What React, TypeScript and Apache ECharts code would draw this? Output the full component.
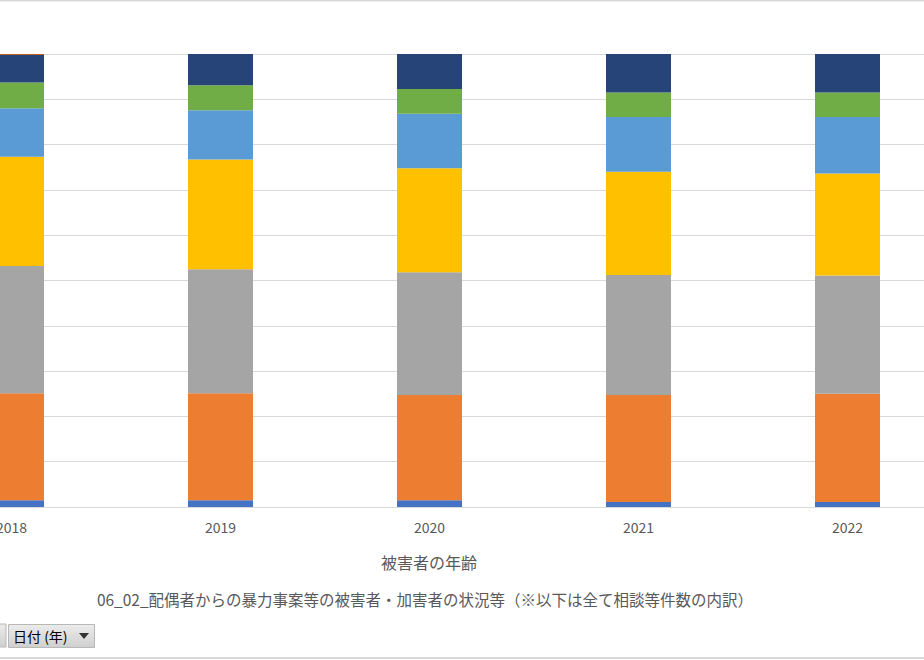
import React, { useEffect, useRef } from "react";
import * as echarts from "echarts";

const years = ["2018", "2019", "2020", "2021", "2022"];
const seriesNames = ["10歳代以下", "20歳代", "30歳代", "40歳代", "50歳代", "60歳代", "70歳以上", "不明"];
const s10 = [1.5, 1.5, 1.5, 1.1, 1.1];
const s20 = [23.6, 23.6, 23.2, 23.6, 23.9];
const s30 = [28.1, 27.4, 27.1, 26.5, 26.1];
const s40 = [24.1, 24.2, 23.0, 22.8, 22.5];
const s50 = [10.7, 10.9, 12.0, 12.1, 12.5];
const s60 = [5.7, 5.5, 5.5, 5.4, 5.4];
const s70 = [6.1, 6.9, 7.7, 8.5, 8.5];
const sUnknown = [0.2, 0, 0, 0, 0];
const seriesValues = [s10, s20, s30, s40, s50, s60, s70, sUnknown];
const colors = ["#4472C4", "#ED7D31", "#A5A5A5", "#FFC000", "#5B9BD5", "#70AD47", "#264478", "#C0601E"];
const yTicks = [0, 10, 20, 30, 40, 50, 60, 70, 80, 90, 100];

const axisTitle = "被害者の年齢";
const chartTitle = "06_02_配偶者からの暴力事案等の被害者・加害者の状況等（※以下は全て相談等件数の内訳）";
const fieldButton = "日付 (年)";

export default function App() {
  const ref = useRef<HTMLDivElement>(null);
  useEffect(() => {
    if (!ref.current) return;
    const chart = echarts.init(ref.current, null, { renderer: "svg" });
    const font = "'Noto Sans CJK JP', 'Noto Sans', sans-serif";
    chart.setOption({
      animation: false,
      backgroundColor: "#ffffff",
      grid: {
        left: -93,
        right: -28,
        top: 54,
        bottom: 153,
        containLabel: false,
        outerBoundsMode: "none",
      },
      xAxis: {
        type: "category",
        data: years,
        axisLine: { show: true, lineStyle: { color: "#d9d9d9", width: 1 } },
        axisTick: { show: false },
        axisLabel: { color: "#595959", fontSize: 14, margin: 13, fontFamily: font },
      },
      yAxis: {
        type: "value",
        min: yTicks[0],
        max: yTicks[yTicks.length - 1],
        interval: 10,
        axisLabel: { show: false },
        axisLine: { show: false },
        axisTick: { show: false },
        splitLine: { show: true, lineStyle: { color: "#d9d9d9", width: 1 } },
      },
      series: seriesValues.map((vals, i) => ({
        name: seriesNames[i],
        type: "bar",
        stack: "total",
        barWidth: 65,
        data: vals,
        itemStyle: { color: colors[i] },
      })),
      graphic: [
        { type: "line", shape: { x1: 0, y1: 0.5, x2: 924, y2: 0.5 }, style: { stroke: "#d9d9d9", lineWidth: 2 } },
        { type: "line", shape: { x1: 0, y1: 658, x2: 924, y2: 658 }, style: { stroke: "#d9d9d9", lineWidth: 2 } },
        {
          type: "text",
          x: 429,
          y: 562,
          style: { text: axisTitle, fill: "#595959", font: `16px ${font}`, textAlign: "center", textVerticalAlign: "middle" },
        },
        {
          type: "text",
          x: 425,
          y: 599,
          style: { text: chartTitle, fill: "#595959", font: `15.5px ${font}`, textAlign: "center", textVerticalAlign: "middle" },
        },
        {
          type: "rect",
          shape: { x: -2, y: 624, width: 8, height: 23 },
          style: {
            fill: new echarts.graphic.LinearGradient(0, 0, 0, 1, [
              { offset: 0, color: "#ececec" },
              { offset: 1, color: "#cfcfcf" },
            ]),
            stroke: "#b8b8b8",
            lineWidth: 1,
          },
        },
        {
          type: "rect",
          shape: { x: 8.5, y: 624.5, width: 86, height: 23 },
          style: {
            fill: new echarts.graphic.LinearGradient(0, 0, 0, 1, [
              { offset: 0, color: "#ececec" },
              { offset: 1, color: "#cfcfcf" },
            ]),
            stroke: "#b8b8b8",
            lineWidth: 1,
          },
        },
        {
          type: "text",
          x: 13,
          y: 636,
          style: { text: fieldButton, fill: "#000000", font: `14px ${font}`, textAlign: "left", textVerticalAlign: "middle" },
        },
        {
          type: "polygon",
          shape: { points: [[79, 633], [89, 633], [84, 639]] },
          style: { fill: "#333333" },
        },
      ],
    });
    return () => chart.dispose();
  }, []);
  return (
    <div
      ref={ref}
      style={{ position: "fixed", left: 0, top: 0, width: 924, height: 660, background: "#fff" }}
    />
  );
}
